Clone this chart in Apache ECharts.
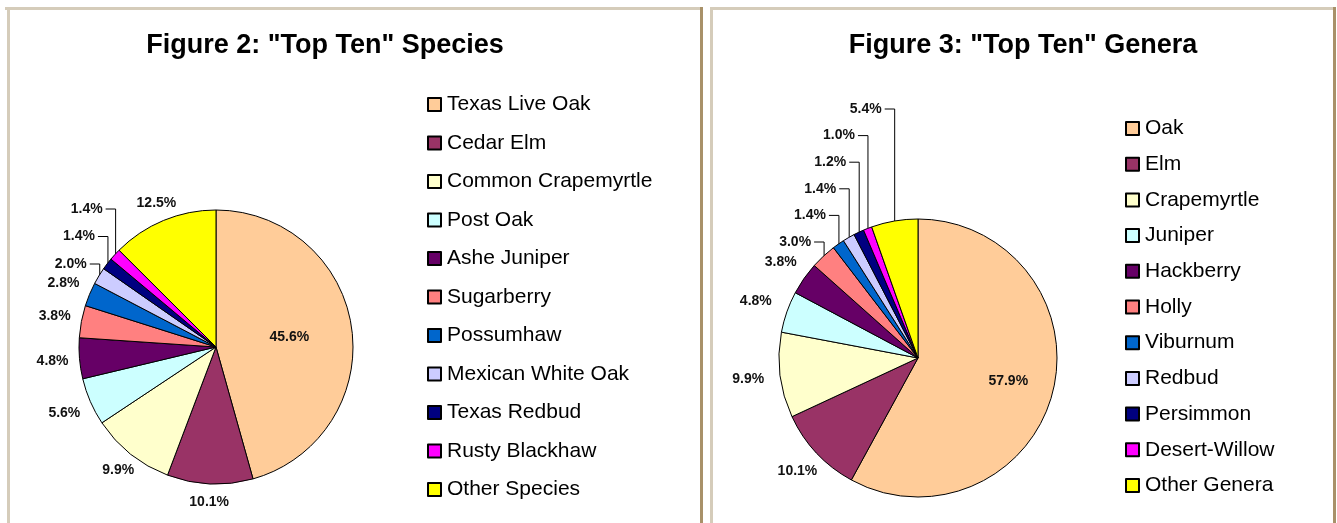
<!DOCTYPE html>
<html>
<head>
<meta charset="utf-8">
<script src="https://cdn.jsdelivr.net/npm/echarts@6/dist/echarts.min.js"></script>
<style>
html,body{margin:0;padding:0;background:#fff;}
#chart{width:1337px;height:523px;}
</style>
</head>
<body>
<div id="chart"></div>
<script>
// ---- data ----
const speciesTitle = 'Figure 2: "Top Ten" Species';
const speciesNames = ['Texas Live Oak','Cedar Elm','Common Crapemyrtle','Post Oak','Ashe Juniper','Sugarberry','Possumhaw','Mexican White Oak','Texas Redbud','Rusty Blackhaw','Other Species'];
const speciesValues = [45.6,10.1,9.9,5.6,4.8,3.8,2.8,2.0,1.4,1.4,12.5];
const speciesLeader = [false,false,false,false,false,false,false,true,true,true,false];

const generaTitle = 'Figure 3: "Top Ten" Genera';
const generaNames = ['Oak','Elm','Crapemyrtle','Juniper','Hackberry','Holly','Viburnum','Redbud','Persimmon','Desert-Willow','Other Genera'];
const generaValues = [57.9,10.1,9.9,4.8,3.8,3.0,1.4,1.4,1.2,1.0,5.4];
const generaLeader = [false,false,false,false,false,true,true,true,true,true,true];

const palette = ['#FFCC99','#993366','#FFFFCC','#CCFFFF','#660066','#FF8080','#0066CC','#CCCCFF','#000080','#FF00FF','#FFFF00'];

const FONT = '"Liberation Sans", Arial, sans-serif';

function buildData(names, values, leaders){
  return names.map((n,i)=>{
    const d = {name:n, value:values[i], itemStyle:{color:palette[i]}};
    if(i===0){
      d.label = {position:'inside'};
      d.labelLine = {show:false};
    } else if(!leaders[i]){
      d.labelLine = {show:true, lineStyle:{opacity:0}};
    }
    return d;
  });
}

// cfg: label placement style (not data)
function pieSeries(names, values, leaders, center, radius, cfg){
  let lastLeader = -1;
  leaders.forEach((l,i)=>{ if(l) lastLeader = i; });
  return {
    type:'pie',
    center:center,
    radius:radius,
    startAngle:90,
    clockwise:true,
    animation:false,
    avoidLabelOverlap:false,
    itemStyle:{borderColor:'#000',borderWidth:1},
    emphasis:{disabled:true},
    label:{
      show:true,
      position:'outside',
      formatter:p=>p.value.toFixed(1)+'%',
      fontFamily:FONT,
      fontWeight:'bold',
      fontSize:14,
      color:'#111'
    },
    labelLine:{show:true,length:10,length2:10,smooth:false,lineStyle:{color:'#000',width:1}},
    labelLayout:function(p){
      const i = p.dataIndex;
      const lr = p.labelRect;
      const w = lr.width/2, h = lr.height/2;
      if(i===0){
        const lx = lr.x + w, ly = lr.y + h;
        let dx = lx-center[0], dy = ly-center[1];
        const len = Math.hypot(dx,dy) || 1; dx/=len; dy/=len;
        return {x:center[0]+dx*radius*cfg.inside, y:center[1]+dy*radius*cfg.inside, align:'center', verticalAlign:'middle'};
      }
      const pts = p.labelLinePoints;
      if(!pts) return {};
      const e = pts[0];
      let dx = e[0]-center[0], dy = e[1]-center[1];
      const len = Math.hypot(dx,dy) || 1; dx/=len; dy/=len;
      if(leaders[i]){
        const y = cfg.topY + (lastLeader - i)*cfg.step;
        const ex = e[0] - dx*1, ey = e[1] - dy*1;
        return {
          x: ex - 13, y: y, align:'right', verticalAlign:'middle',
          labelLinePoints:[[ex,ey],[ex,y],[ex-10,y]]
        };
      }
      const box = Math.min(Math.abs(dx)>1e-6 ? w/Math.abs(dx) : 1e9, Math.abs(dy)>1e-6 ? h/Math.abs(dy) : 1e9);
      const d = cfg.gap + box;
      return {x:e[0]+dx*d, y:e[1]+dy*d, align:'center', verticalAlign:'middle'};
    },
    data:buildData(names, values, leaders)
  };
}

function legend(names, left, top, gap){
  return {
    data:names,
    orient:'vertical',
    left:left, top:top,
    itemWidth:13, itemHeight:13,
    itemGap:gap,
    icon:'rect',
    padding:0,
    selectedMode:false,
    textStyle:{fontFamily:FONT,fontSize:21,color:'#000',lineHeight:21,padding:[0,0,0,1]}
  };
}

const chart = echarts.init(document.getElementById('chart'), null, {renderer:'canvas'});
const light = '#d5ccba', dark = '#a89169';
chart.setOption({
  backgroundColor:'#fff',
  animation:false,
  title:[
    {text:speciesTitle,left:325,top:32,textAlign:'center',padding:0,
     textStyle:{fontFamily:FONT,fontWeight:'bold',fontSize:27,color:'#000'}},
    {text:generaTitle,left:1023,top:32,textAlign:'center',padding:0,
     textStyle:{fontFamily:FONT,fontWeight:'bold',fontSize:27,color:'#000'}}
  ],
  legend:[
    legend(speciesNames, 427, 94, 17.5),
    legend(generaNames, 1125, 118, 14.7)
  ],
  graphic:[
    {type:'rect',shape:{x:5,y:7,width:695,height:3},style:{fill:light},silent:true},
    {type:'rect',shape:{x:7,y:7,width:3,height:520},style:{fill:light},silent:true},
    {type:'rect',shape:{x:700,y:7,width:3,height:520},style:{fill:dark},silent:true},
    {type:'rect',shape:{x:710,y:7,width:623,height:3},style:{fill:light},silent:true},
    {type:'rect',shape:{x:710,y:7,width:3,height:520},style:{fill:light},silent:true},
    {type:'rect',shape:{x:1333,y:7,width:3,height:520},style:{fill:dark},silent:true}
  ],
  series:[
    pieSeries(speciesNames, speciesValues, speciesLeader, [216,347], 137, {inside:0.54, gap:11, topY:209, step:27.5}),
    pieSeries(generaNames, generaValues, generaLeader, [918,358], 139, {inside:0.67, gap:16, topY:109, step:26.6})
  ]
});
</script>
</body>
</html>
